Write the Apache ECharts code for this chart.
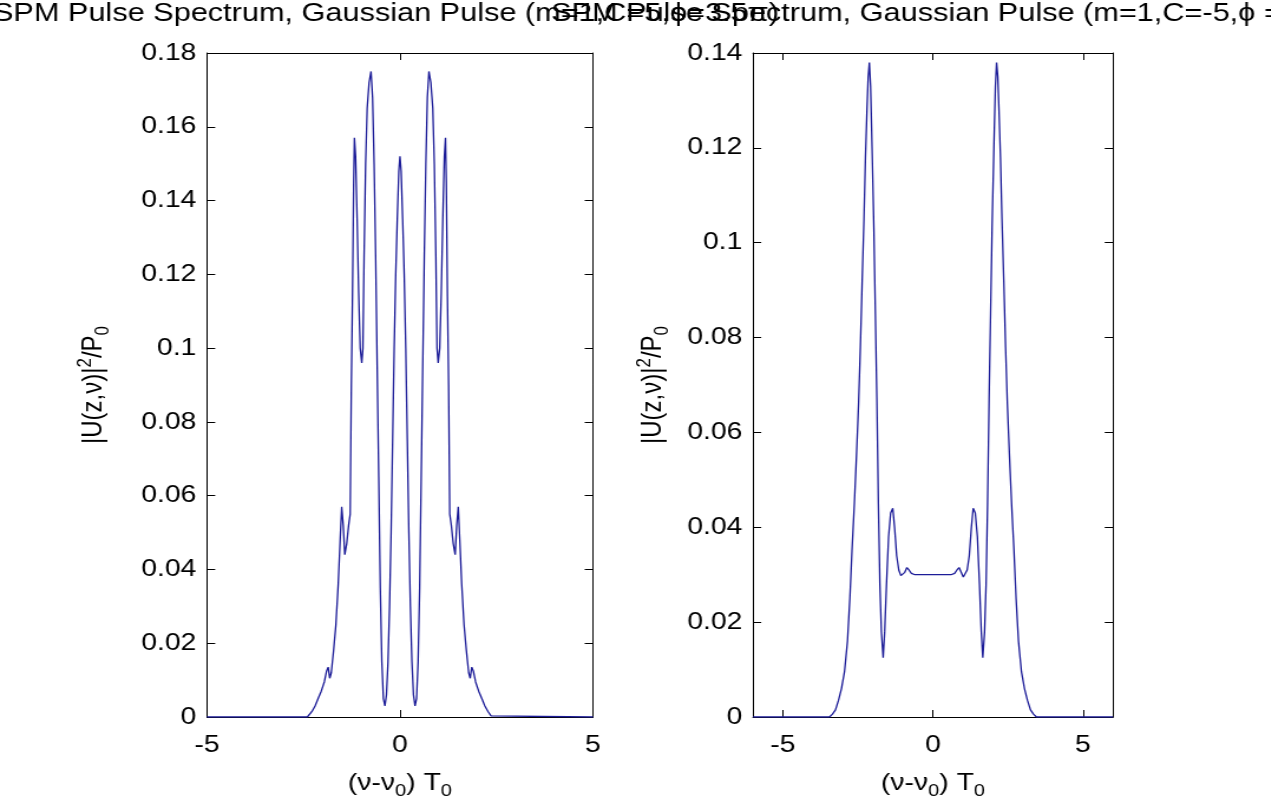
<!DOCTYPE html>
<html><head><meta charset="utf-8">
<script src="https://cdn.jsdelivr.net/npm/echarts@6/dist/echarts.min.js"></script>
<style>
html,body{margin:0;padding:0;background:#fff;overflow:hidden;width:1271px;height:805px}
#c{width:1078px;height:805px;transform:scaleX(1.18);transform-origin:0 0;}
</style>
</head><body><div id="c"></div>
<script>
// ---- data ----
const leftTitle = 'SPM Pulse Spectrum, Gaussian Pulse (m=1,C=5,ϕ=3.5π)';
const rightTitle = 'SPM Pulse Spectrum, Gaussian Pulse (m=1,C=-5,ϕ =3.5π)';
const leftXRange = [-5, 5];
const leftXTicks = [-5, 0, 5];
const leftYRange = [0, 0.18];
const rightXRange = [-6, 6];
const rightXTicks = [-5, 0, 5];
const rightYRange = [0, 0.14];
const yStep = 0.02;

const leftX = [-5, -2.4, -2.36, -2.28, -2.2, -2.12, -2.04, -1.96, -1.9, -1.86, -1.82, -1.78, -1.72, -1.66, -1.6, -1.55, -1.51, -1.47, -1.43, -1.38, -1.33, -1.29, -1.26, -1.23, -1.2, -1.18, -1.15, -1.11, -1.07, -1.03, -0.99, -0.96, -0.93, -0.89, -0.85, -0.8, -0.75, -0.71, -0.67, -0.63, -0.59, -0.55, -0.51, -0.47, -0.43, -0.39, -0.35, -0.31, -0.27, -0.23, -0.19, -0.15, -0.11, -0.07, -0.03, 0,
  0.03, 0.07, 0.11, 0.15, 0.19, 0.23, 0.27, 0.31, 0.35, 0.39, 0.43, 0.47, 0.51, 0.55, 0.59, 0.63, 0.67, 0.71, 0.75, 0.8, 0.85, 0.89, 0.93, 0.96, 0.99, 1.03, 1.07, 1.11, 1.15, 1.18, 1.2, 1.23, 1.26, 1.29, 1.33, 1.38, 1.43, 1.47, 1.51, 1.55, 1.6, 1.66, 1.72, 1.78, 1.82, 1.86, 1.9, 1.96, 2.04, 2.12, 2.2, 2.28, 2.36, 2.4, 5];
const leftY = [0, 0, 0.0003, 0.0015, 0.003, 0.005, 0.007, 0.0095, 0.0125, 0.0135, 0.0105, 0.012, 0.018, 0.025, 0.036, 0.048, 0.057, 0.052, 0.044, 0.047, 0.052, 0.055, 0.09, 0.114, 0.145, 0.157, 0.152, 0.135, 0.115, 0.10, 0.096, 0.10, 0.125, 0.15, 0.165, 0.172, 0.175, 0.168, 0.15, 0.125, 0.095, 0.065, 0.035, 0.015, 0.005, 0.003, 0.006, 0.015, 0.03, 0.05, 0.075, 0.10, 0.12, 0.135, 0.148, 0.152,
  0.148, 0.135, 0.12, 0.10, 0.075, 0.05, 0.03, 0.015, 0.006, 0.003, 0.005, 0.015, 0.035, 0.065, 0.095, 0.125, 0.15, 0.168, 0.175, 0.172, 0.165, 0.15, 0.125, 0.10, 0.096, 0.10, 0.115, 0.135, 0.152, 0.157, 0.145, 0.114, 0.09, 0.055, 0.052, 0.047, 0.044, 0.052, 0.057, 0.048, 0.036, 0.025, 0.018, 0.012, 0.0105, 0.0135, 0.0125, 0.0095, 0.007, 0.005, 0.003, 0.0015, 0.0003, 0, 0];

const rightX = [-6, -3.45, -3.35, -3.25, -3.15, -3.05, -2.95, -2.85, -2.77, -2.7, -2.62, -2.55, -2.48, -2.42, -2.36, -2.3, -2.25, -2.2, -2.16, -2.12, -2.08, -2.03, -1.97, -1.92, -1.87, -1.82, -1.77, -1.72, -1.66, -1.61, -1.55, -1.48, -1.41, -1.34, -1.28, -1.21, -1.14, -1.07, -1.01, -0.94, -0.87, -0.8, -0.72, -0.6, -0.45, -0.3, -0.15, 0,
  0.15, 0.3, 0.45, 0.6, 0.72, 0.8, 0.87, 0.94, 1.01, 1.07, 1.14, 1.21, 1.28, 1.34, 1.41, 1.48, 1.55, 1.61, 1.66, 1.72, 1.77, 1.82, 1.87, 1.92, 1.97, 2.03, 2.08, 2.12, 2.16, 2.2, 2.25, 2.3, 2.36, 2.42, 2.48, 2.55, 2.62, 2.7, 2.77, 2.85, 2.95, 3.05, 3.15, 3.25, 3.35, 3.45, 6];
const rightY = [0, 0, 0.0006, 0.0015, 0.0035, 0.006, 0.0095, 0.016, 0.025, 0.035, 0.045, 0.055, 0.066, 0.078, 0.092, 0.105, 0.118, 0.128, 0.135, 0.138, 0.133, 0.12, 0.103, 0.085, 0.067, 0.045, 0.028, 0.018, 0.0125, 0.018, 0.028, 0.038, 0.043, 0.044, 0.04, 0.034, 0.031, 0.0298, 0.0295, 0.0305, 0.0315, 0.031, 0.0303, 0.03, 0.03, 0.03, 0.03, 0.03,
  0.03, 0.03, 0.03, 0.03, 0.0303, 0.031, 0.0315, 0.0305, 0.0295, 0.0298, 0.031, 0.034, 0.04, 0.044, 0.043, 0.038, 0.028, 0.018, 0.0125, 0.018, 0.028, 0.045, 0.067, 0.085, 0.103, 0.12, 0.133, 0.138, 0.135, 0.128, 0.118, 0.105, 0.092, 0.078, 0.066, 0.055, 0.045, 0.035, 0.025, 0.016, 0.0095, 0.006, 0.0035, 0.0015, 0.0006, 0, 0];

// ---- chart ----
const FONT = '"Liberation Sans", Arial, "DejaVu Sans", sans-serif';
const LINE = '#1c1c98';
const xNameText = '{n|(ν-ν}{s|0}{n|) T}{s|0}';
const yNameText = '{n||U(z,ν)|}{p|2}{n|/P}{s|0}';
const nameRich = {
  n: {fontSize: 24, fontFamily: FONT, color: '#000'},
  s: {fontSize: 17, fontFamily: FONT, color: '#000', padding: [16, 0, 0, 0]},
  p: {fontSize: 17, fontFamily: FONT, color: '#000', padding: [0, 0, 14, 0]}
};
const fmtY = v => String(+(+v).toFixed(2));

function xAxis(grid, range, ticks, bottom) {
  return {
    type: 'value', gridIndex: grid, position: bottom ? 'bottom' : 'top',
    min: range[0], max: range[1],
    axisLine: {show: true, onZero: false, lineStyle: {color: '#000', width: 1}},
    axisTick: {show: true, inside: true, length: 7, customValues: ticks, lineStyle: {color: '#000', width: 1}},
    axisLabel: {show: bottom, customValues: ticks, margin: 16, fontSize: 24, fontFamily: FONT, color: '#000', formatter: v => String(v)},
    splitLine: {show: false},
    name: bottom ? xNameText : '', nameLocation: 'middle', nameGap: 50,
    nameTextStyle: {rich: nameRich}
  };
}
function yAxis(grid, range, left, gap) {
  return {
    type: 'value', gridIndex: grid, position: left ? 'left' : 'right',
    min: range[0], max: range[1], interval: yStep,
    axisLine: {show: true, onZero: false, lineStyle: {color: '#000', width: 1}},
    axisTick: {show: true, inside: true, length: 7, lineStyle: {color: '#000', width: 1}},
    axisLabel: {show: left, margin: 9, fontSize: 24, fontFamily: FONT, color: '#000', formatter: fmtY},
    splitLine: {show: false},
    name: left ? yNameText : '', nameLocation: 'middle', nameGap: gap,
    nameTextStyle: {rich: nameRich}
  };
}
function pairs(xs, ys) { return xs.map((x, i) => [x, ys[i]]); }
function titleText(text, x) {
  return {type: 'text', x: x, y: 1, z: 100, silent: true,
    style: {text: text, fontSize: 26, fontFamily: FONT, fill: '#000', align: 'left', verticalAlign: 'top'}};
}

const chart = echarts.init(document.getElementById('c'), null, {renderer: 'canvas'});
chart.setOption({
  animation: false,
  backgroundColor: '#fff',
  graphic: [titleText(leftTitle, -6), titleText(rightTitle, 467)],
  grid: [
    {left: 175.4, top: 53, width: 327.1, height: 674, containLabel: false},
    {left: 638.1, top: 53, width: 305.1, height: 675, containLabel: false}
  ],
  xAxis: [
    xAxis(0, leftXRange, leftXTicks, true),
    xAxis(0, leftXRange, leftXTicks, false),
    xAxis(1, rightXRange, rightXTicks, true),
    xAxis(1, rightXRange, rightXTicks, false)
  ],
  yAxis: [
    yAxis(0, leftYRange, true, 80),
    yAxis(0, leftYRange, false, 0),
    yAxis(1, rightYRange, true, 68),
    yAxis(1, rightYRange, false, 0)
  ],
  series: [
    {type: 'line', xAxisIndex: 0, yAxisIndex: 0, data: pairs(leftX, leftY), showSymbol: false,
     lineStyle: {color: LINE, width: 1.3}, clip: true},
    {type: 'line', xAxisIndex: 2, yAxisIndex: 2, data: pairs(rightX, rightY), showSymbol: false,
     lineStyle: {color: LINE, width: 1.3}, clip: true}
  ]
});
</script>
</body></html>
